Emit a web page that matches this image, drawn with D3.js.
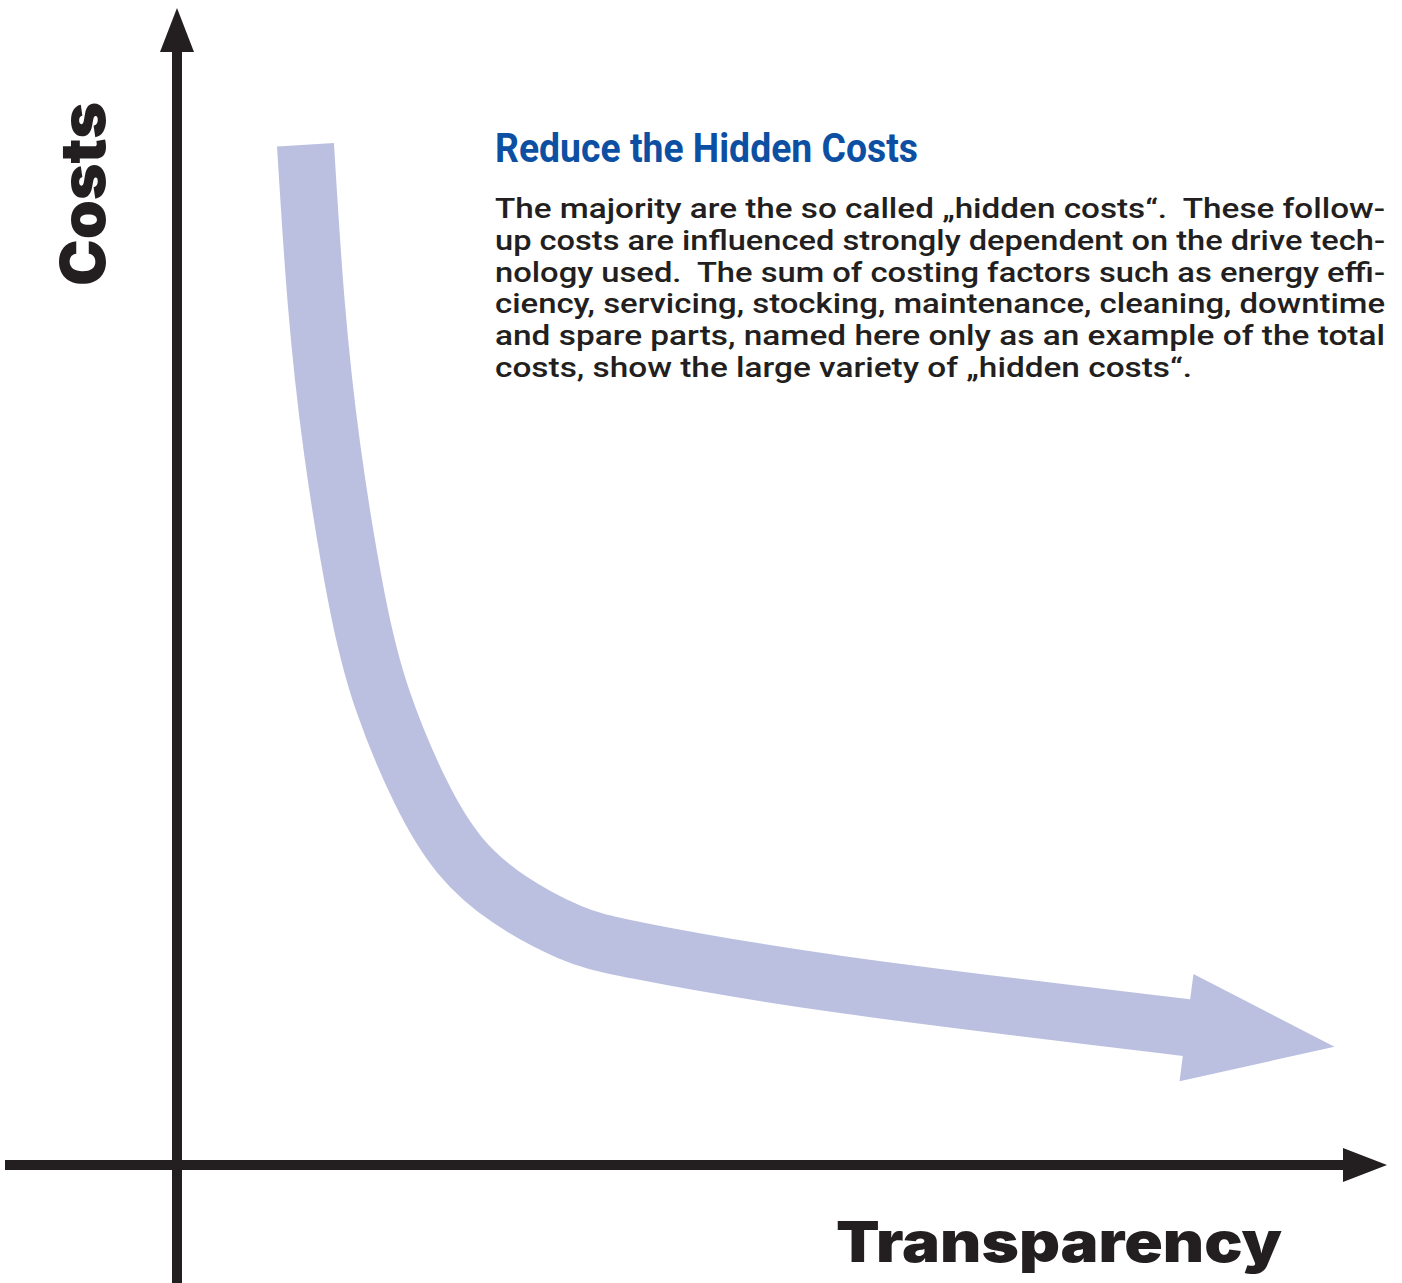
<!DOCTYPE html>
<html>
<head>
<meta charset="utf-8">
<script src="https://cdn.jsdelivr.net/npm/d3@7"></script>
<style>
  body { margin: 0; background: #fff; }
</style>
</head>
<body>
<div id="chart"></div>
<script>
// curve, in % of each axis
var transparency = [11.0, 11.9, 13.3, 15.4, 17.6, 20.8, 24.2, 28.5, 33.6, 39.6, 56.8, 86.6];
var costs = [91.5, 77.6, 64.1, 50.7, 41.7, 33.6, 27.8, 23.8, 20.9, 19.2, 16.2, 12.3];
var arrowTip = [99.1, 10.6];

var titleText = "Reduce the Hidden Costs";
var bodyLines = [
  "The majority are the so called \u201Ehidden costs\u201C.  These follow-",
  "up costs are influenced strongly dependent on the drive tech-",
  "nology used.  The sum of costing factors such as energy effi-",
  "ciency, servicing, stocking, maintenance, cleaning, downtime",
  "and spare parts, named here only as an example of the total",
  "costs, show the large variety of \u201Ehidden costs\u201C."
];
var xLabel = "Transparency";
var yLabel = "Costs";

var svgWidth = 1402;
var svgHeight = 1283;

var svg = d3.select("#chart")
  .append("svg")
  .attr("width", svgWidth)
  .attr("height", svgHeight);

// axis origin at (177, 1165)
var xScale = d3.scaleLinear().domain([0, 100]).range([177, 1345]);
var yScale = d3.scaleLinear().domain([0, 100]).range([1165, 50]);

var axisColor = "#231f20";

// axes with arrow heads
svg.append("line")
  .attr("x1", 5).attr("x2", xScale(100))
  .attr("y1", yScale(0)).attr("y2", yScale(0))
  .attr("stroke", axisColor)
  .attr("stroke-width", 10);

svg.append("line")
  .attr("x1", xScale(0)).attr("x2", xScale(0))
  .attr("y1", svgHeight).attr("y2", yScale(100) + 2)
  .attr("stroke", axisColor)
  .attr("stroke-width", 10);

svg.append("path")
  .attr("d", `M${xScale(100) - 2},${yScale(0) - 17} L${xScale(100) + 42},${yScale(0)} L${xScale(100) - 2},${yScale(0) + 17}Z`)
  .attr("fill", axisColor);

svg.append("path")
  .attr("d", `M${xScale(0) - 17},${yScale(100) + 2} L${xScale(0)},${yScale(100) - 42} L${xScale(0) + 17},${yScale(100) + 2}Z`)
  .attr("fill", axisColor);

// the big curved arrow
var pts = transparency.map((t, i) => [xScale(t), yScale(costs[i])]);

var line = d3.line()
  .curve(d3.curveNatural);

svg.append("path")
  .attr("d", line(pts))
  .attr("fill", "none")
  .attr("stroke", "#bbc0e0")
  .attr("stroke-width", 57);

var end = pts[pts.length - 1];
var tip = [xScale(arrowTip[0]), yScale(arrowTip[1])];
var dx = tip[0] - end[0], dy = tip[1] - end[1];
var len = Math.sqrt(dx * dx + dy * dy);
var px = -dy / len * 54, py = dx / len * 54;
var bx = end[0] - dx / len * 2, by = end[1] - dy / len * 2;

svg.append("path")
  .attr("d", `M${bx + px},${by + py} L${tip[0]},${tip[1]} L${bx - px},${by - py}Z`)
  .attr("fill", "#bbc0e0");

// title and text block
svg.append("text")
  .attr("x", 495)
  .attr("y", 162)
  .attr("textLength", 423)
  .attr("lengthAdjust", "spacingAndGlyphs")
  .style("font-family", "'Liberation Sans Narrow', Roboto, 'Liberation Sans', sans-serif")
  .style("font-weight", "bold")
  .style("font-size", "41px")
  .style("fill", "#0d4fa2")
  .text(titleText);

svg.selectAll(".body")
  .data(bodyLines)
  .enter()
  .append("text")
  .attr("class", "body")
  .attr("x", 495)
  .attr("y", (d, i) => 218 + i * 31.8)
  .attr("textLength", (d, i) => i == bodyLines.length - 1 ? 697 : 890)
  .attr("lengthAdjust", "spacingAndGlyphs")
  .style("white-space", "pre")
  .style("font-family", "'Liberation Sans Narrow', Roboto, 'Liberation Sans', sans-serif")
  .style("font-weight", "500")
  .style("font-size", "28px")
  .style("fill", "#231f20")
  .text(d => d);

// axis labels
svg.append("text")
  .attr("x", 836)
  .attr("y", 1262)
  .attr("textLength", 446)
  .attr("lengthAdjust", "spacingAndGlyphs")
  .style("font-family", "Inter, Lato, Roboto, sans-serif")
  .style("font-weight", "900")
  .style("font-size", "56px")
  .style("fill", axisColor)
  .text(xLabel);

svg.append("text")
  .attr("transform", "translate(105, 286) rotate(-90)")
  .attr("textLength", 184)
  .attr("lengthAdjust", "spacingAndGlyphs")
  .style("font-family", "Inter, Lato, Roboto, sans-serif")
  .style("font-weight", "900")
  .style("font-size", "62px")
  .style("fill", axisColor)
  .text(yLabel);
</script>
</body>
</html>
